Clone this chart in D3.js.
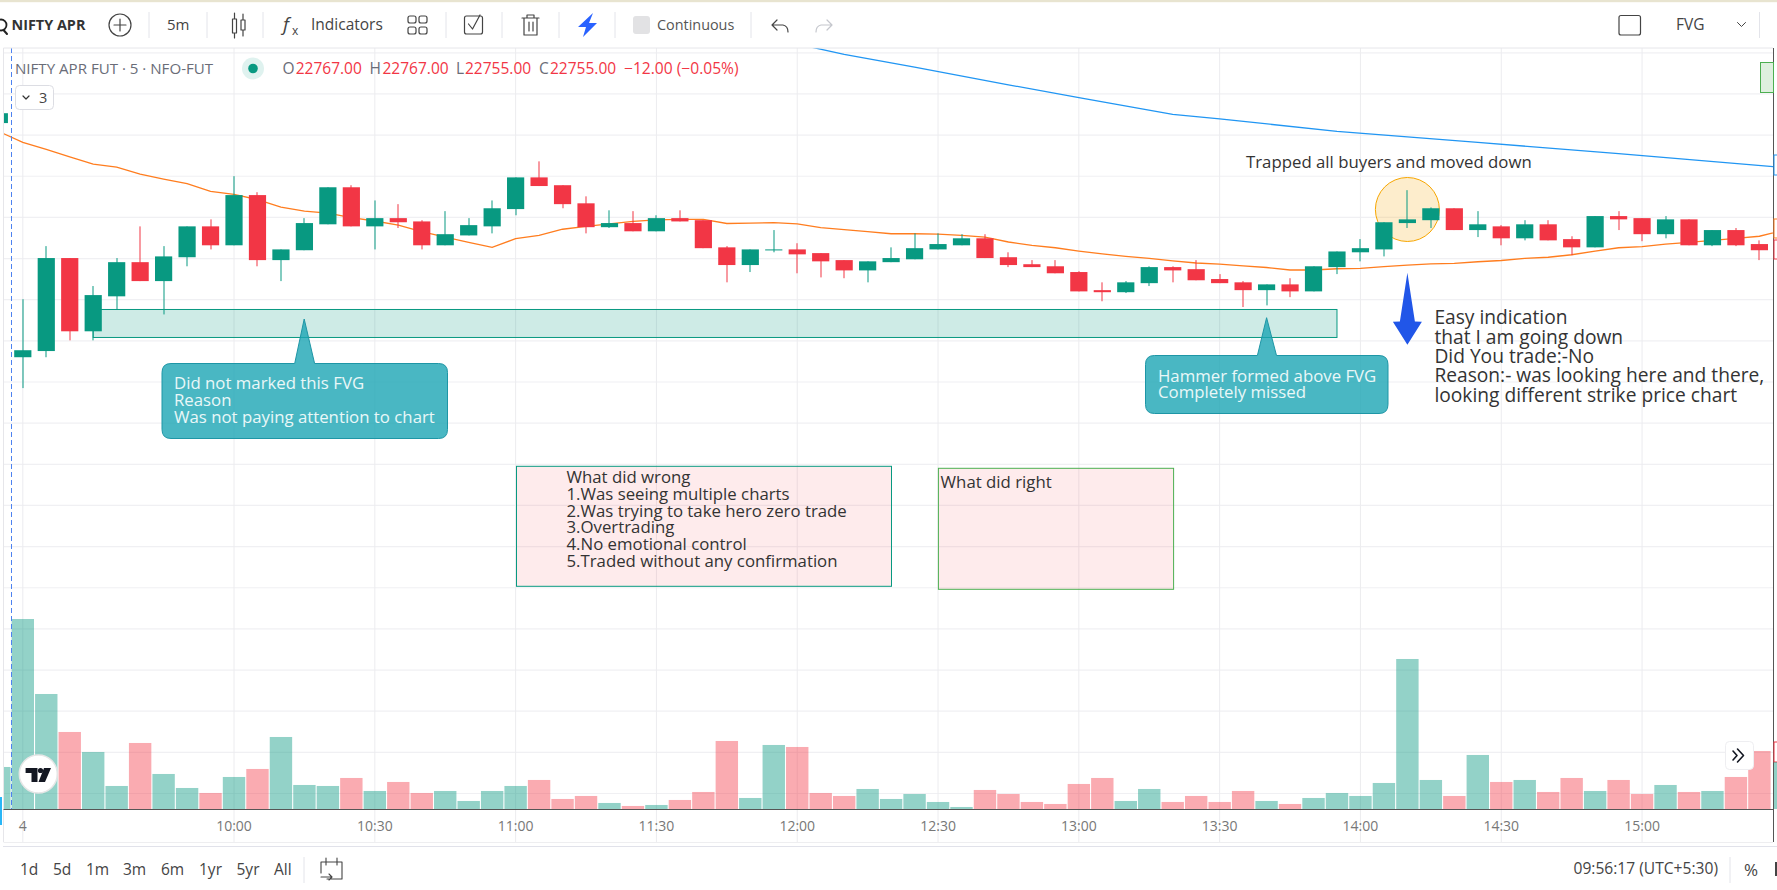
<!DOCTYPE html>
<html>

<head>
    <title>NIFTY APR FUT</title>
    <meta charset="UTF-8">
    <script src="https://d3js.org/d3.v7.min.js"></script>
    <style type="text/css">
        body { margin: 0; background: #fff; }
        svg { display: block; font-family: "Open Sans", sans-serif; }
    </style>
</head>

<body>
    <script type="text/javascript">
        // 5 minute candles, previous day's last bar first, next day's first slot last
        var times = ["03 15:25",
            "09:15", "09:20", "09:25", "09:30", "09:35", "09:40", "09:45", "09:50", "09:55",
            "10:00", "10:05", "10:10", "10:15", "10:20", "10:25", "10:30", "10:35", "10:40", "10:45", "10:50", "10:55",
            "11:00", "11:05", "11:10", "11:15", "11:20", "11:25", "11:30", "11:35", "11:40", "11:45", "11:50", "11:55",
            "12:00", "12:05", "12:10", "12:15", "12:20", "12:25", "12:30", "12:35", "12:40", "12:45", "12:50", "12:55",
            "13:00", "13:05", "13:10", "13:15", "13:20", "13:25", "13:30", "13:35", "13:40", "13:45", "13:50", "13:55",
            "14:00", "14:05", "14:10", "14:15", "14:20", "14:25", "14:30", "14:35", "14:40", "14:45", "14:50", "14:55",
            "15:00", "15:05", "15:10", "15:15", "15:20", "15:25", "05 09:15"];

        var opens = [22764,
            22479.5, 22487, 22600, 22511, 22553.5, 22595, 22572, 22601, 22638.5,
            22615.5, 22676.5, 22597.5, 22609.5, 22641, 22686, 22638.5, 22648.5, 22644.5, 22615.5, 22627.5, 22638.5,
            22659.5, 22698, 22688.5, 22666.5, 22637.5, 22642.5, 22632.5, 22648.5, 22646, 22613, 22591.5, 22609.5,
            22610.5, 22606, 22597.5, 22585, 22595, 22598.5, 22610.5, 22615.5, 22624, 22601, 22592.5, 22590,
            22583, 22561, 22558.5, 22569.5, 22589, 22586.5, 22574.5, 22570.5, 22561, 22568, 22559.5, 22589,
            22607, 22610.5, 22642.5, 22646, 22660.5, 22634, 22638.5, 22624, 22641, 22623, 22613, 22651,
            22648.5, 22629, 22647, 22615.5, 22634, 22617];
        var highs = [22776,
            22550, 22614.5, 22600, 22566, 22600, 22638.5, 22614.5, 22638.5, 22647,
            22699.5, 22680, 22610.5, 22648.5, 22686, 22688.5, 22670, 22665.5, 22646, 22657, 22648.5, 22670,
            22698, 22717.5, 22688.5, 22675, 22658, 22657, 22652, 22658, 22646, 22614.5, 22610.5, 22634,
            22618, 22606, 22597.5, 22596, 22613, 22630, 22630, 22629, 22629, 22607, 22597.5, 22597.5,
            22584, 22570.5, 22572, 22590, 22590, 22597.5, 22580.5, 22572, 22568, 22575.5, 22590, 22608,
            22623, 22643.5, 22682.5, 22661.5, 22660.5, 22657, 22640, 22646, 22646, 22626.5, 22651, 22657,
            22648.5, 22651, 22647, 22634, 22636.5, 22621.5];
        var lows = [22764,
            22442, 22479.5, 22500, 22500, 22537.5, 22572, 22531.5, 22590, 22610.5,
            22615.5, 22590, 22572, 22609.5, 22641, 22638.5, 22610.5, 22636.5, 22610.5, 22615.5, 22627.5, 22630,
            22652, 22687.5, 22660.5, 22630, 22636.5, 22632.5, 22632.5, 22644.5, 22612, 22570.5, 22583, 22607,
            22581.5, 22576.5, 22575.5, 22570.5, 22595, 22598.5, 22610.5, 22615.5, 22600, 22589, 22589, 22581.5,
            22559.5, 22547.5, 22557.5, 22566, 22570.5, 22573, 22569.5, 22540.5, 22542.5, 22552.5, 22559.5, 22580.5,
            22596, 22602, 22636.5, 22636.5, 22634, 22625.5, 22615.5, 22621.5, 22621.5, 22603.5, 22613, 22634,
            22620.5, 22624, 22615.5, 22614.5, 22614.5, 22597.5];
        var closes = [22776,
            22488, 22600, 22511, 22555, 22595, 22572, 22602, 22638.5, 22615.5,
            22676.5, 22597.5, 22610.5, 22642.5, 22686, 22638.5, 22648.5, 22643.5, 22615.5, 22629, 22640, 22660.5,
            22698, 22687.5, 22665.5, 22637.5, 22642.5, 22632.5, 22648.5, 22644.5, 22612, 22591.5, 22610.5, 22610.5,
            22604.5, 22596, 22585, 22596, 22600, 22612, 22617, 22624, 22600, 22591.5, 22589, 22581.5,
            22559.5, 22558.5, 22570.5, 22589, 22585, 22573, 22569.5, 22561, 22568, 22559.5, 22590, 22608,
            22612, 22643.5, 22647, 22660.5, 22634, 22641, 22624, 22641, 22621.5, 22613, 22651, 22647,
            22629, 22647, 22615.5, 22634, 22615.5, 22609.5];
        var volumes = [127,
            571, 346, 232, 172, 70, 199, 106, 64, 49,
            97, 121, 217, 73, 70, 94, 55, 82, 49, 55, 25, 55,
            70, 88, 31, 40, 19, 10, 13, 28, 52, 205, 34, 193,
            187, 49, 40, 61, 31, 46, 22, 7, 58, 46, 22, 16,
            76, 94, 25, 61, 22, 40, 22, 55, 25, 16, 34, 49,
            40, 79, 451, 88, 40, 163, 82, 88, 52, 94, 55, 88,
            46, 73, 52, 55, 97, 175];

        var fastAverage = [22753.5,
            22740.5, 22732, 22723, 22714, 22710.5, 22702, 22696, 22690.5, 22681,
            22677.5, 22671, 22662, 22657, 22654.5, 22649, 22645, 22640, 22632, 22625.5, 22619, 22613,
            22623.5, 22627.5, 22635, 22638.5, 22641.5, 22644.5, 22646.5, 22647, 22647, 22642, 22642.5, 22643,
            22641.5, 22637, 22634.5, 22632, 22629.5, 22629.5, 22629, 22627.5, 22625.5, 22619.5, 22615.5, 22612.5,
            22608.5, 22605, 22602, 22599.5, 22596.5, 22594, 22592.5, 22590.5, 22588.5, 22585.5, 22585.5, 22587,
            22587.5, 22589.5, 22591.5, 22593, 22593.5, 22595.5, 22597, 22599.5, 22601, 22604, 22608.5, 22612.5,
            22614, 22617, 22619, 22621.5, 22624, 22626.5, 22633.5];

        var slowTimes = ["12:00", "12:10", "12:25", "12:45", "13:00", "13:20", "13:30", "13:55", "14:25", "14:55", "05 09:15"];
        var slowAverage = [22860, 22847.5, 22832, 22810.5, 22795, 22774.5, 22769, 22754, 22740.5, 22727, 22710];

        var priceTicks = [22850, 22800, 22750, 22700, 22650, 22600, 22550, 22500, 22450, 22400,
            22350, 22300, 22250, 22200, 22150, 22100, 22050, 22000, 21950];
        var timeTicks = ["09:15", "10:00", "10:30", "11:00", "11:30", "12:00", "12:30", "13:00", "13:30", "14:00", "14:30", "15:00"];
        var rangeLabels = ["1d", "5d", "1m", "3m", "6m", "1yr", "5yr", "All"];

        var fvgZone = { from: "09:30", to: "13:55", top: 22537.5, bottom: 22503.5 };
        var missedNote = ["Did not marked this FVG", "Reason", "Was not paying attention to chart"];
        var hammerNote = ["Hammer formed above FVG", "Completely missed"];
        var easyNote = ["Easy indication", "that I am going down", "Did You trade:-No",
            "Reason:- was looking here and there,", "looking different strike price chart"];
        var wrongNote = ["What did wrong", "1.Was seeing multiple charts", "2.Was trying to take hero zero trade",
            "3.Overtrading", "4.No emotional control", "5.Traded without any confirmation"];

        var GREEN = "#089981", RED = "#f23645", INK = "#333";

        var svg = d3.select("body").append("svg").attr("width", 1777).attr("height", 890);
        svg.append("rect").attr("width", 1777).attr("height", 890).attr("fill", "#fff");

        // Scales
        var x = d3.scaleBand().domain(times).range([-12.4, 1794.6]);
        var y = d3.scaleLinear().domain([22850, 21950]).range([52.3, 793]);
        var v = d3.scaleLinear().domain([0, 571]).range([809.3, 619]);
        function cx(t) { return x(t) + x.bandwidth() / 2; }

        var defs = svg.append("defs");
        defs.append("clipPath").attr("id", "plot").append("rect")
            .attr("x", 3.5).attr("y", 48).attr("width", 1769.5).attr("height", 761.3);

        function text(parent, s, px, py, size, fill, anchor, weight) {
            return parent.append("text").attr("x", px).attr("y", py).attr("dy", "0.35em")
                .attr("font-size", size).attr("fill", fill)
                .attr("text-anchor", anchor || "start").attr("font-weight", weight || 400).text(s);
        }
        function lines(parent, rows, px, firstY, step, size, fill) {
            rows.forEach(function (s, i) { text(parent, s, px, firstY + i * step, size, fill); });
        }
        function stroke(parent, d, color, w) {
            return parent.append("path").attr("d", d).attr("fill", "none")
                .attr("stroke", color).attr("stroke-width", w || 1.3)
                .attr("stroke-linecap", "round").attr("stroke-linejoin", "round");
        }

        // Grid
        var grid = svg.append("g");
        grid.append("g").attr("transform", "translate(1773,0)")
            .call(d3.axisRight(y).tickValues(priceTicks).tickSize(-1769.5).tickFormat(""))
            .call(function (g) {
                g.select(".domain").remove();
                g.selectAll("line").attr("stroke", "#f0f0f3").attr("stroke-width", 1.2);
            });
        grid.append("g").attr("transform", "translate(0,842)")
            .call(d3.axisBottom(x).tickValues(timeTicks).tickSize(-794).tickFormat(""))
            .call(function (g) {
                g.select(".domain").remove();
                g.selectAll("line").attr("stroke", "#ececef").attr("stroke-width", 1);
            });

        var plot = svg.append("g").attr("clip-path", "url(#plot)");

        // Volume
        plot.append("g").selectAll("rect").data(volumes).join("rect")
            .attr("x", function (d, i) { return cx(times[i]) - 11.2; })
            .attr("width", 22.4)
            .attr("y", function (d) { return v(d); })
            .attr("height", function (d) { return v(0) - v(d); })
            .attr("fill", function (d, i) { return closes[i] >= opens[i] ? GREEN : RED; })
            .attr("fill-opacity", function (d, i) { return closes[i] >= opens[i] ? 0.44 : 0.42; });

        // Notes boxes
        plot.append("rect").attr("x", 516.5).attr("y", 466.3).attr("width", 375).attr("height", 120)
            .attr("fill", RED).attr("fill-opacity", 0.1);
        plot.append("rect").attr("x", 516.5).attr("y", 466.3).attr("width", 375).attr("height", 120)
            .attr("fill", "none").attr("stroke", GREEN);
        plot.append("rect").attr("x", 938.4).attr("y", 468.3).attr("width", 235.2).attr("height", 121)
            .attr("fill", RED).attr("fill-opacity", 0.1);
        plot.append("rect").attr("x", 938.4).attr("y", 468.3).attr("width", 235.2).attr("height", 121)
            .attr("fill", "none").attr("stroke", "#4caf50");

        // Circle around the trap candle
        plot.append("circle").attr("cx", cx("14:10")).attr("cy", y(22659)).attr("r", 32)
            .attr("fill", "#f7a600").attr("fill-opacity", 0.2).attr("stroke", "#f7a600").attr("stroke-width", 1);

        // FVG zone
        plot.append("rect")
            .attr("x", cx(fvgZone.from)).attr("y", y(fvgZone.top))
            .attr("width", cx(fvgZone.to) - cx(fvgZone.from))
            .attr("height", y(fvgZone.bottom) - y(fvgZone.top))
            .attr("fill", GREEN).attr("fill-opacity", 0.2).attr("stroke", GREEN).attr("stroke-width", 1);

        // Averages
        var fastLine = d3.line().x(function (d, i) { return cx(times[i]); }).y(function (d) { return y(d); });
        plot.append("path").datum(fastAverage).attr("d", fastLine)
            .attr("fill", "none").attr("stroke", "#ff7d1f").attr("stroke-width", 1.3);
        var slowLine = d3.line().x(function (d, i) { return cx(slowTimes[i]); }).y(function (d) { return y(d); });
        plot.append("path").datum(slowAverage).attr("d", slowLine)
            .attr("fill", "none").attr("stroke", "#2196f3").attr("stroke-width", 1.3);

        // Candles
        var candles = plot.append("g").selectAll("g").data(times.slice(0, opens.length)).join("g")
            .attr("fill", function (d, i) { return closes[i] >= opens[i] ? GREEN : RED; });
        candles.append("rect")
            .attr("x", function (d) { return Math.round(cx(d)) - 0.5; }).attr("width", 1)
            .attr("y", function (d, i) { return y(highs[i]); })
            .attr("height", function (d, i) { return y(lows[i]) - y(highs[i]); });
        candles.append("rect")
            .attr("x", function (d) { return cx(d) - 8.6; }).attr("width", 17.2)
            .attr("y", function (d, i) { return y(Math.max(opens[i], closes[i])); })
            .attr("height", function (d, i) { return Math.max(1, Math.abs(y(opens[i]) - y(closes[i]))); });

        // Session break
        svg.append("line").attr("x1", 11.5).attr("x2", 11.5).attr("y1", 48).attr("y2", 809)
            .attr("stroke", "#4d82f0").attr("stroke-dasharray", "5 3");

        // Frame
        svg.append("rect").attr("x", 0).attr("y", 0).attr("width", 1777).attr("height", 2.2).attr("fill", "#e8e4d0");
        svg.append("line").attr("x1", 3.5).attr("x2", 1773).attr("y1", 48).attr("y2", 48).attr("stroke", "#e6e6ea");
        svg.append("line").attr("x1", 3.5).attr("x2", 3.5).attr("y1", 48).attr("y2", 842).attr("stroke", "#e6e6ea");
        svg.append("line").attr("x1", 3.5).attr("x2", 1773).attr("y1", 809.5).attr("y2", 809.5).attr("stroke", "#555");
        svg.append("line").attr("x1", 3.5).attr("x2", 1773).attr("y1", 842.5).attr("y2", 842.5).attr("stroke", "#eeeef0");
        svg.append("line").attr("x1", 3).attr("x2", 1777).attr("y1", 846.5).attr("y2", 846.5).attr("stroke", "#e1e2ea").attr("stroke-width", 1.2);
        svg.append("line").attr("x1", 1773.5).attr("x2", 1773.5).attr("y1", 48).attr("y2", 842).attr("stroke", "#555");
        svg.append("rect").attr("x", 0).attr("y", 797).attr("width", 2).attr("height", 28).attr("fill", "#29b6f6");

        // Pieces of the price axis that show at the right edge
        svg.append("rect").attr("x", 1760.5).attr("y", 62.5).attr("width", 13).attr("height", 30)
            .attr("fill", "#dff0df").attr("stroke", "#4caf50");
        [[155, 20, "#2196f3"], [219, 19, "#ff7d1f"], [240, 19, RED], [742, 20, RED]].forEach(function (b) {
            svg.append("rect").attr("x", 1774).attr("y", b[0]).attr("width", 6).attr("height", b[1])
                .attr("fill", "#fff").attr("stroke", b[2]);
        });
        svg.append("rect").attr("x", 1774).attr("y", 762).attr("width", 3).attr("height", 47)
            .attr("fill", GREEN).attr("fill-opacity", 0.45);

        // Time axis
        var axis = svg.append("g").attr("transform", "translate(0,809)")
            .call(d3.axisBottom(x).tickValues(timeTicks).tickSize(0)
                .tickFormat(function (d) { return d === "09:15" ? "4" : d; }));
        axis.select(".domain").remove();
        axis.selectAll("text").attr("y", 17).attr("dy", "0.35em")
            .attr("font-size", 14).attr("font-family", "Open Sans").attr("fill", "#777");

        // Callouts
        function callout(left, top, right, bottom, tipX, tipY, baseL, baseR) {
            var r = 9, p = d3.path();
            p.moveTo(left + r, top);
            p.lineTo(baseL, top);
            p.lineTo(tipX, tipY);
            p.lineTo(baseR, top);
            p.lineTo(right - r, top);
            p.quadraticCurveTo(right, top, right, top + r);
            p.lineTo(right, bottom - r);
            p.quadraticCurveTo(right, bottom, right - r, bottom);
            p.lineTo(left + r, bottom);
            p.quadraticCurveTo(left, bottom, left, bottom - r);
            p.lineTo(left, top + r);
            p.quadraticCurveTo(left, top, left + r, top);
            p.closePath();
            svg.append("path").attr("d", p.toString())
                .attr("fill", "#1ca5b4").attr("fill-opacity", 0.8).attr("stroke", "#1e96a6");
        }
        callout(162, 363.5, 447.5, 438.5, 304.2, 319, 294.7, 314.6);
        lines(svg, missedNote, 174, 383.3, 17, 16.8, "#eaf7f8");
        callout(1145.5, 355.5, 1388, 413.5, 1266.6, 317.7, 1257.4, 1276.5);
        lines(svg, hammerNote, 1158, 375.7, 16.8, 16.8, "#eaf7f8");

        // Arrow pointing down
        var ax = cx("14:10");
        svg.append("path")
            .attr("d", d3.line()([[ax, 272.7], [ax + 7.5, 321.5], [ax + 14.5, 321.7], [ax, 344.7], [ax - 14.5, 321.7], [ax - 7.5, 321.5]]) + "Z")
            .attr("fill", "#2156e8");

        // Free text
        text(svg, "Trapped all buyers and moved down", 1246, 162.3, 16.8, INK);
        lines(svg, easyNote, 1434.4, 317.7, 19.3, 19.2, INK);
        lines(svg, wrongNote, 566.5, 477.3, 16.75, 16.8, INK);
        text(svg, "What did right", 940.6, 482.3, 16.8, INK);

        // Legend row
        text(svg, "NIFTY APR FUT · 5 · NFO-FUT", 15, 69, 15.1, "#6a6d78");
        svg.append("circle").attr("cx", 253).attr("cy", 68.5).attr("r", 11).attr("fill", GREEN).attr("fill-opacity", 0.13);
        svg.append("circle").attr("cx", 253).attr("cy", 68.5).attr("r", 4.8).attr("fill", GREEN);
        [["O", 282.6], ["H", 369.5], ["L", 456], ["C", 539]].forEach(function (l) {
            text(svg, l[0], l[1], 69, 15.5, "#6a6d78");
        });
        text(svg, "22767.00", 295.7, 69, 15.5, RED);
        text(svg, "22767.00", 382.5, 69, 15.5, RED);
        text(svg, "22755.00", 465, 69, 15.5, RED);
        text(svg, "22755.00", 550, 69, 15.5, RED);
        text(svg, "−12.00 (−0.05%)", 624, 69, 15.6, RED);
        svg.append("rect").attr("x", 15.5).attr("y", 85.5).attr("width", 38).attr("height", 24).attr("rx", 4)
            .attr("fill", "#fff").attr("stroke", "#dcdde3");
        stroke(svg, "M23,96 L26,99 L29,96", "#333", 1.2);
        text(svg, "3", 39, 97.5, 14.5, "#444");

        // Toolbar
        var bar = svg.append("g");
        [149, 207, 263, 446, 502, 559, 615, 751, 1759.5].forEach(function (sx) {
            bar.append("line").attr("x1", sx).attr("x2", sx).attr("y1", 12).attr("y2", 38).attr("stroke", "#e3e4ea");
        });
        stroke(bar, "M3.5,30 L7,34", "#222", 2);
        bar.append("circle").attr("cx", 1).attr("cy", 25).attr("r", 5.5).attr("fill", "none").attr("stroke", "#222").attr("stroke-width", 1.8);
        text(bar, "NIFTY APR", 11.5, 25, 14.4, "#333", "start", 700);
        bar.append("circle").attr("cx", 120).attr("cy", 25).attr("r", 11).attr("fill", "none").attr("stroke", "#444").attr("stroke-width", 1.2);
        stroke(bar, "M120,19 V31 M114,25 H126", "#444", 1.2);
        text(bar, "5m", 167, 25, 15, "#444");
        stroke(bar, "M232.5,19 h4 v14 h-4 Z M234.5,13 V19 M234.5,33 V38 M241,20 h4 v10 h-4 Z M243,14 V20 M243,30 V36", "#444", 1.2);
        text(bar, "f", 283, 24, 19, "#444").attr("font-style", "italic");
        text(bar, "x", 292, 31, 12, "#444");
        text(bar, "Indicators", 311, 25, 15.5, "#444");
        [[408, 16], [419, 16], [408, 27], [419, 27]].forEach(function (s) {
            bar.append("rect").attr("x", s[0]).attr("y", s[1]).attr("width", 8).attr("height", 7).attr("rx", 2)
                .attr("fill", "none").attr("stroke", "#444").attr("stroke-width", 1.2);
        });
        bar.append("rect").attr("x", 464.5).attr("y", 16).attr("width", 18).attr("height", 18).attr("rx", 2)
            .attr("fill", "none").attr("stroke", "#444").attr("stroke-width", 1.2);
        stroke(bar, "M468.5,24 L472.5,29 L480,15", "#444", 1.2);
        stroke(bar, "M522,18 H539 M527,18 V15 H534 V18 M524,18 V35 H537 V18 M529,22 V31 M533,22 V31", "#444", 1.2);
        bar.append("path").attr("d", "M593,13 L578,27 L586,27 L583,37 L597,23 L589,23 Z").attr("fill", "#2962ff");
        bar.append("rect").attr("x", 633).attr("y", 16).attr("width", 17).attr("height", 18).attr("rx", 3).attr("fill", "#e2e2e4");
        text(bar, "Continuous", 657, 25, 14.4, "#555");
        stroke(bar, "M777,20 L772,25 L777,30 M772,25 H783 Q788,26 788,32", "#444", 1.2);
        stroke(bar, "M827,20 L832,25 L827,30 M832,25 H821 Q816,26 816,32", "#c4c6cc", 1.2);
        bar.append("rect").attr("x", 1619).attr("y", 15.5).attr("width", 21.5).attr("height", 19.5).attr("rx", 2)
            .attr("fill", "none").attr("stroke", "#444").attr("stroke-width", 1.2);
        text(bar, "FVG", 1676, 25, 15.5, "#444");
        stroke(bar, "M1737.5,22.5 L1741.5,26.5 L1745.5,22.5", "#444", 1);

        // Logo and go to realtime button
        svg.append("circle").attr("cx", 38.3).attr("cy", 774).attr("r", 19)
            .attr("fill", "#fff").attr("stroke", "#e6e6e6").attr("stroke-width", 1.5);
        svg.append("path").attr("d", "M25.6,768 H37.5 V782 H31.5 V773 H25.6 Z M44,768 H51 L45,782 H38.5 Z").attr("fill", "#131722");
        svg.append("circle").attr("cx", 40.5).attr("cy", 770.5).attr("r", 2.6).attr("fill", "#131722");
        svg.append("rect").attr("x", 1725.5).attr("y", 741.5).attr("width", 28).attr("height", 28).attr("rx", 4)
            .attr("fill", "#fff").attr("stroke", "#eeeef1");
        stroke(svg, "M1733,751 L1737,755.5 L1733,760 M1737.5,749 L1743.5,755.5 L1737.5,762", "#131722", 1.6);

        // Bottom bar
        var rangeX = [20, 53, 86, 123, 161, 199, 236.5, 274];
        rangeLabels.forEach(function (s, i) { text(svg, s, rangeX[i], 870, 15.5, "#444"); });
        svg.append("line").attr("x1", 304).attr("x2", 304).attr("y1", 857).attr("y2", 883).attr("stroke", "#e3e4ea");
        stroke(svg, "M321,873 V862 H342 V879 H327 M326,858 V865 M337,858 V865 M321,877 H332 M329,874 L332,877 L329,880", "#444", 1.1);
        text(svg, "09:56:17 (UTC+5:30)", 1573.5, 869, 15.6, "#444");
        svg.append("line").attr("x1", 1730).attr("x2", 1730).attr("y1", 857).attr("y2", 883).attr("stroke", "#e3e4ea");
        text(svg, "%", 1744, 870, 17, "#444");
        svg.append("rect").attr("x", 1775).attr("y", 862).attr("width", 2).attr("height", 14).attr("fill", "#444");
    </script>
</body>

</html>
